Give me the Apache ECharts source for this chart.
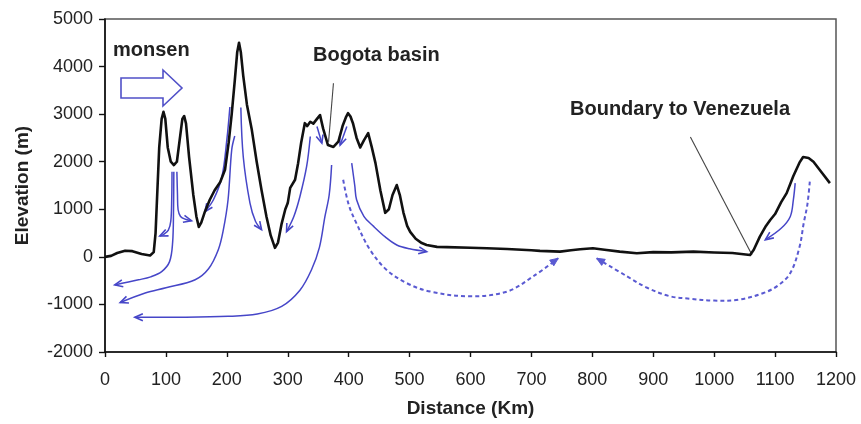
<!DOCTYPE html>
<html><head><meta charset="utf-8">
<script src="https://cdn.jsdelivr.net/npm/echarts@6/dist/echarts.min.js"></script>
<style>html,body{margin:0;padding:0;background:#fff}#c{width:861px;height:424px}</style>
</head><body><div id="c"></div>
<script>
// ---- Data ----
const distanceKm = [0,10,20,33,45,60,74,80,83,86,89,93,96,99,103,108,113,118,123,127,130,133,138,145,150,154,158,164,172,180,189,197,203,208,213,217,220,223,227,233,241,249,257,265,272,279,284,290,296,300,304,312,317,322,328,332,337,342,348,353,358,366,375,383,390,396,399,403,407,413,419,425,432,438,444,452,460,466,472,479,484,490,496,501,510,520,528,545,561,600,627,660,700,714,747,765,780,801,820,845,873,900,930,966,1000,1030,1059,1065,1075,1085,1092,1100,1110,1119,1130,1140,1146,1155,1163,1175,1190];
const elevationM = [0,20,80,130,120,60,30,100,500,1400,2300,2900,3050,2900,2300,2000,1930,2000,2500,2900,2960,2800,2100,1300,850,630,720,950,1200,1400,1570,1830,2400,3000,3700,4300,4500,4300,3800,3200,2670,2000,1400,850,450,190,300,700,1000,1130,1450,1620,1970,2400,2810,2750,2840,2800,2900,2980,2700,2350,2310,2420,2750,2950,3020,2950,2810,2500,2300,2450,2600,2300,1970,1400,925,1000,1300,1510,1300,925,650,525,380,290,250,210,205,190,180,165,140,125,110,140,160,180,150,110,75,100,95,110,90,80,40,150,425,650,775,900,1150,1340,1700,1980,2100,2080,2000,1800,1550];

const xTickLabels = ['0','100','200','300','400','500','600','700','800','900','1000','1100','1200'];
const yTickLabels = ['-2000','-1000','0','1000','2000','3000','4000','5000'];

// solid flow arrows: [km, m] points, arrowhead at the last point
const arrowPeak1Left  = [[110,1790],[109.5,1200],[108,750],[104,560],[97,480],[90,440]];
const arrowPeak1Right = [[118,1790],[119,1300],[120,990],[124,850],[132,790],[142,760]];
const arrowLong1      = [[113,1790],[112.5,1000],[111,300],[106,-100],[93,-310],[75,-420],[55,-483],[16,-590]];
const arrowLong2      = [[213,2540],[208,2250],[202,1200],[194,550],[186,150],[170,-250],[148,-480],[100,-650],[66,-760],[25,-960]];
const arrowLong3      = [[372,1930],[368,1300],[361,845],[352,200],[339,-270],[320,-700],[290,-1040],[250,-1200],[202,-1250],[120,-1270],[49,-1270]];
const arrowPeak3Left  = [[205,3150],[200,2460],[192,1690],[178,1200],[164,950]];
const arrowPeak3Right = [[223,3140],[227,2100],[238,1130],[247,750],[257,570]];
const arrowRidgeLeft  = [[337,2530],[331,1900],[320,1270],[310,850],[298,530]];
const arrowRidgeRight = [[405,1970],[410,1500],[413,1200],[425,850],[441,640],[460,420],[479,250],[500,170],[528,110]];
const arrowBasinLeft  = [[348,2740],[356,2390]];
const arrowBasinRight = [[397,2740],[386,2350]];
const arrowEast       = [[1133,1550],[1130,1200],[1125,850],[1110,600],[1084,360]];
// dashed flow arrows
const dashedWest = [[391,1620],[400,1100],[413,700],[435,150],[462,-270],[495,-550],[534,-730],[599,-830],[660,-730],[703,-410],[744,-30]];
const dashedEast = [[1157,1580],[1153,1100],[1147,710],[1140,200],[1125,-340],[1105,-600],[1081,-760],[1040,-900],[1000,-920],[960,-880],[928,-830],[890,-650],[857,-410],[807,-30]];

// leader lines for labels
const leaderBogota = [[375,3650],[367,2420]];
const leaderBoundary = [[961,2520],[1062,42]];

// ---- Chart ----
const solidArrows = [arrowPeak1Left,arrowPeak1Right,arrowLong1,arrowLong2,arrowLong3,arrowPeak3Left,arrowPeak3Right,arrowRidgeLeft,arrowRidgeRight,arrowBasinLeft,arrowBasinRight,arrowEast];
const dashedArrows = [dashedWest, dashedEast];
const leaders = [leaderBogota, leaderBoundary];

const BLUE = '#4646c8';
const BLUE_D = '#5a5ad2';

function arrowSeries(paths, dashed) {
  return {
    type: 'custom', coordinateSystem: 'cartesian2d', silent: true, z: 2,
    data: paths.map((p, i) => [p[p.length-1][0], p[p.length-1][1], i]),
    encode: {x: 0, y: 1},
    renderItem: function (params, api) {
      const path = paths[params.dataIndex];
      const pts = path.map(p => api.coord(p));
      const n = pts.length;
      const end = pts[n-1], prev = pts[n-2];
      let dx = end[0]-prev[0], dy = end[1]-prev[1];
      const L = Math.hypot(dx, dy) || 1; dx /= L; dy /= L;
      const h = 8, w = 3.5;
      const b1 = [end[0]-dx*h - dy*w, end[1]-dy*h + dx*w];
      const b2 = [end[0]-dx*h + dy*w, end[1]-dy*h - dx*w];
      const col = dashed ? BLUE_D : BLUE;
      return {type: 'group', children: [
        {type: 'polyline', shape: {points: pts, smooth: 0.35},
         style: {stroke: col, lineWidth: dashed ? 2 : 1.5, fill: null, lineDash: dashed ? [4, 3] : null}},
        dashed
          ? {type: 'polygon', shape: {points: [b1, end, b2]}, style: {fill: col, stroke: col, lineWidth: 1}}
          : {type: 'polyline', shape: {points: [b1, end, b2]}, style: {stroke: col, lineWidth: 1.6, fill: null}}
      ]};
    }
  };
}

const chart = echarts.init(document.getElementById('c'), null, {renderer: 'canvas'});
const FONT = 'Liberation Sans, Arial, sans-serif';
chart.setOption({
  animation: false,
  backgroundColor: '#ffffff',
  grid: {left: 105, right: 25, top: 19, bottom: 72, show: true, borderColor: '#555', borderWidth: 1.5, backgroundColor: 'transparent'},
  xAxis: {
    type: 'value', min: Number(xTickLabels[0]), max: Number(xTickLabels[xTickLabels.length-1]), interval: 100,
    axisLine: {show: true, onZero: false, lineStyle: {color: '#111', width: 1.6}},
    axisTick: {show: true, inside: false, length: 5, lineStyle: {color: '#111', width: 1.4}},
    splitLine: {show: false},
    axisLabel: {fontSize: 18, color: '#222', margin: 19, fontFamily: FONT,
      formatter: function (v) { const s = String(v); return xTickLabels.indexOf(s) >= 0 ? s : ''; }},
    name: 'Distance (Km)', nameLocation: 'middle', nameGap: 47,
    nameTextStyle: {fontSize: 19, fontWeight: 'bold', color: '#222', fontFamily: FONT}
  },
  yAxis: {
    type: 'value', min: Number(yTickLabels[0]), max: Number(yTickLabels[yTickLabels.length-1]), interval: 1000,
    axisLine: {show: true, onZero: false, lineStyle: {color: '#111', width: 1.6}},
    axisTick: {show: true, inside: false, length: 6, lineStyle: {color: '#111', width: 1.4}},
    splitLine: {show: false},
    axisLabel: {fontSize: 18, color: '#222', margin: 12, fontFamily: FONT,
      formatter: function (v) { const s = String(v); return yTickLabels.indexOf(s) >= 0 ? s : ''; }},
    name: 'Elevation (m)', nameLocation: 'middle', nameGap: 73, nameRotate: 90,
    nameTextStyle: {fontSize: 19, fontWeight: 'bold', color: '#222', fontFamily: FONT}
  },
  series: [
    arrowSeries(solidArrows, false),
    arrowSeries(dashedArrows, true),
    {
      type: 'custom', coordinateSystem: 'cartesian2d', silent: true, z: 2,
      data: leaders.map((p, i) => [p[1][0], p[1][1], i]),
      encode: {x: 0, y: 1},
      renderItem: function (params, api) {
        const path = leaders[params.dataIndex];
        return {type: 'polyline', shape: {points: path.map(p => api.coord(p))},
                style: {stroke: '#444', lineWidth: 1.1, fill: null}};
      }
    },
    {
      type: 'line', z: 3,
      data: distanceKm.map((k, i) => [k, elevationM[i]]),
      showSymbol: false, symbol: 'none', smooth: false,
      lineStyle: {color: '#111', width: 2.6, join: 'round'}
    }
  ],
  graphic: [
    {type: 'polygon', z: 10,
     shape: {points: [[121,78],[163,78],[163,70],[182,88],[163,106],[163,98],[121,98]]},
     style: {fill: '#fff', stroke: '#5050c8', lineWidth: 1.6}},
    {type: 'text', z: 10, left: 113, top: 40,
     style: {text: 'monsen', font: 'bold 20px ' + FONT, fill: '#222'}},
    {type: 'text', z: 10, left: 313, top: 45,
     style: {text: 'Bogota basin', font: 'bold 20px ' + FONT, fill: '#222'}},
    {type: 'text', z: 10, left: 570, top: 99,
     style: {text: 'Boundary to Venezuela', font: 'bold 20px ' + FONT, fill: '#222'}}
  ]
});
</script>
</body></html>
